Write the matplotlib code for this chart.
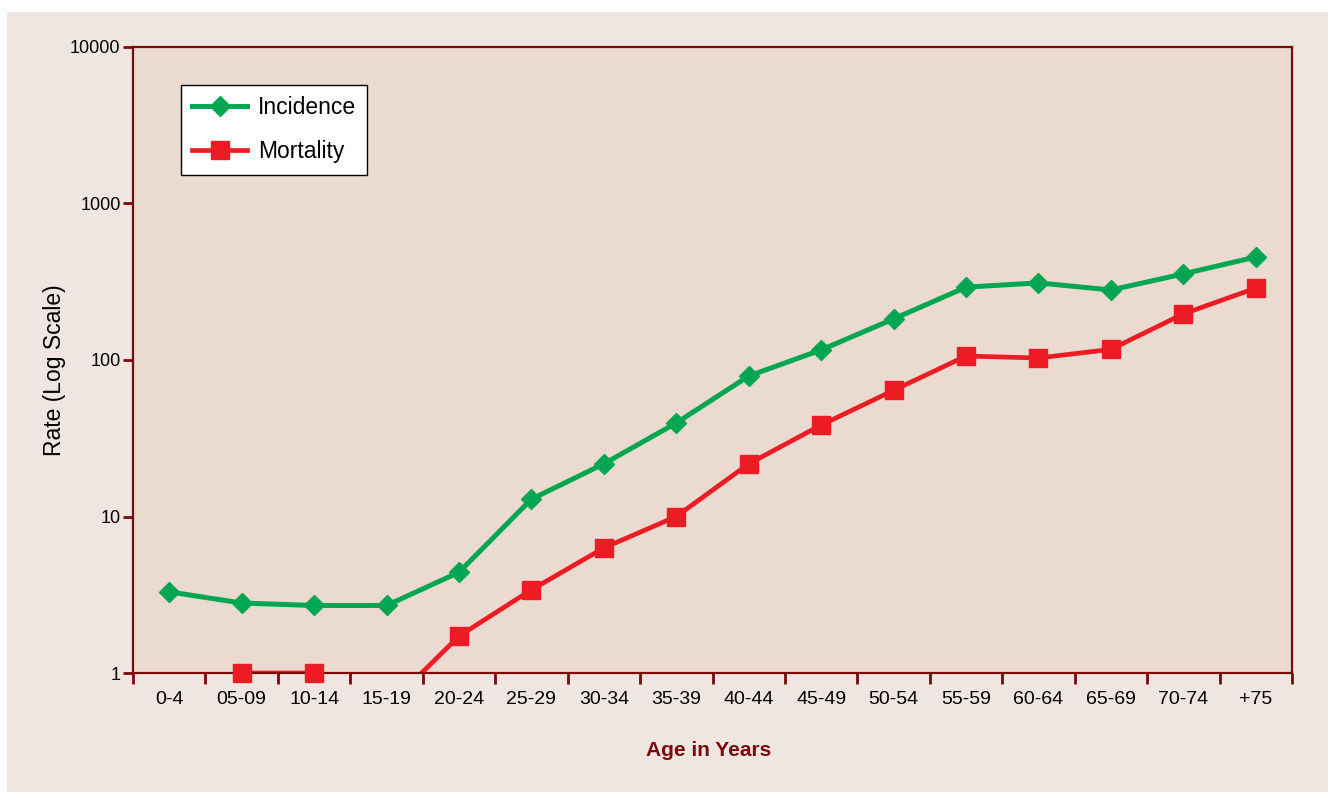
import matplotlib
matplotlib.use('Agg')
import matplotlib.pyplot as plt
from matplotlib.lines import Line2D
from matplotlib.patches import Rectangle
import numpy as np

age_groups = ['0-4', '05-09', '10-14', '15-19', '20-24', '25-29', '30-34', '35-39',
              '40-44', '45-49', '50-54', '55-59', '60-64', '65-69', '70-74', '+75']
incidence = [3.3, 2.8, 2.7, 2.7, 4.4, 12.9, 21.7, 39.6, 79, 116, 183, 292, 311, 280, 355, 455]
# no mortality for 0-4; 15-19 falls below the axis
mortality = [np.nan, 1.0, 1.0, 0.6, 1.72, 3.4, 6.3, 10, 21.7, 38.4, 64, 106, 103, 117, 197, 288]
y_ticks = [1, 10, 100, 1000, 10000]

GREEN = '#00A651'
RED = '#ED1C24'
DARK_RED = '#7A0A0A'
PLOT_BG = '#EBDAD0'
PANEL_BG = '#F0E6E1'

font = ['Liberation Sans', 'DejaVu Sans']

fig = plt.figure(figsize=(13.28, 7.92), dpi=100)
fig.patch.set_facecolor('white')
fig.patches.append(Rectangle((7 / 1328, 0), 1, 1 - 12 / 792, transform=fig.transFigure,
                             facecolor=PANEL_BG, edgecolor='none', zorder=-10))

ax = fig.add_axes([133 / 1328, 119 / 792, 1159 / 1328, 626 / 792])
ax.set_facecolor(PLOT_BG)

x = np.arange(len(age_groups))
inc = np.array(incidence)
mort = np.array(mortality)

ax.plot(x, inc, color=GREEN, lw=3.6, zorder=2)
ax.plot(x, inc, 'D', color=GREEN, ms=10, zorder=4, clip_on=False)

ax.plot(x, mort, color=RED, lw=3.4, zorder=2)
vis = mort >= 1
ax.plot(x[vis], mort[vis], 's', color=RED, ms=13, zorder=4, clip_on=False)

ax.set_yscale('log')
ax.set_ylim(1, 10000)
ax.set_xlim(-0.5, len(age_groups) - 0.5)
ax.set_yticks(y_ticks)
ax.set_yticklabels([str(v) for v in y_ticks], family=font, fontsize=13)
ax.yaxis.set_minor_locator(matplotlib.ticker.NullLocator())

ax.set_xticks(np.arange(len(age_groups) + 1) - 0.5)
ax.set_xticklabels([])
ax.set_xticks(x, minor=True)
ax.set_xticklabels(age_groups, minor=True, family=font, fontsize=14)
ax.tick_params(axis='x', which='major', length=8, width=2, color=DARK_RED, direction='out')
ax.tick_params(axis='x', which='minor', length=0, pad=13)
ax.tick_params(axis='y', length=7, width=2, color=DARK_RED, direction='out', pad=2)

for s in ax.spines.values():
    s.set_color(DARK_RED)
    s.set_linewidth(1.6)

ax.set_xlabel('Age in Years', family=font, fontsize=15, fontweight='bold', color=DARK_RED)
ax.xaxis.set_label_coords(0.497, -0.108)
ax.set_ylabel('Rate (Log Scale)', family=font, fontsize=16.5)
ax.yaxis.set_label_coords(-0.058, 0.484)

handles = [Line2D([], [], color=GREEN, lw=3.6, marker='D', ms=10),
           Line2D([], [], color=RED, lw=3.4, marker='s', ms=13)]
leg = ax.legend(handles, ['Incidence', 'Mortality'], loc='upper left',
                bbox_to_anchor=(48 / 1159, 1 - 38 / 626), fancybox=False, framealpha=1,
                edgecolor='black', prop={'family': font, 'size': 16.5},
                handlelength=2.4, handletextpad=0.45, borderpad=0.5, labelspacing=0.9,
                borderaxespad=0)
leg.get_frame().set_linewidth(1.0)

fig.savefig('out.png', dpi=100, facecolor=fig.get_facecolor())
